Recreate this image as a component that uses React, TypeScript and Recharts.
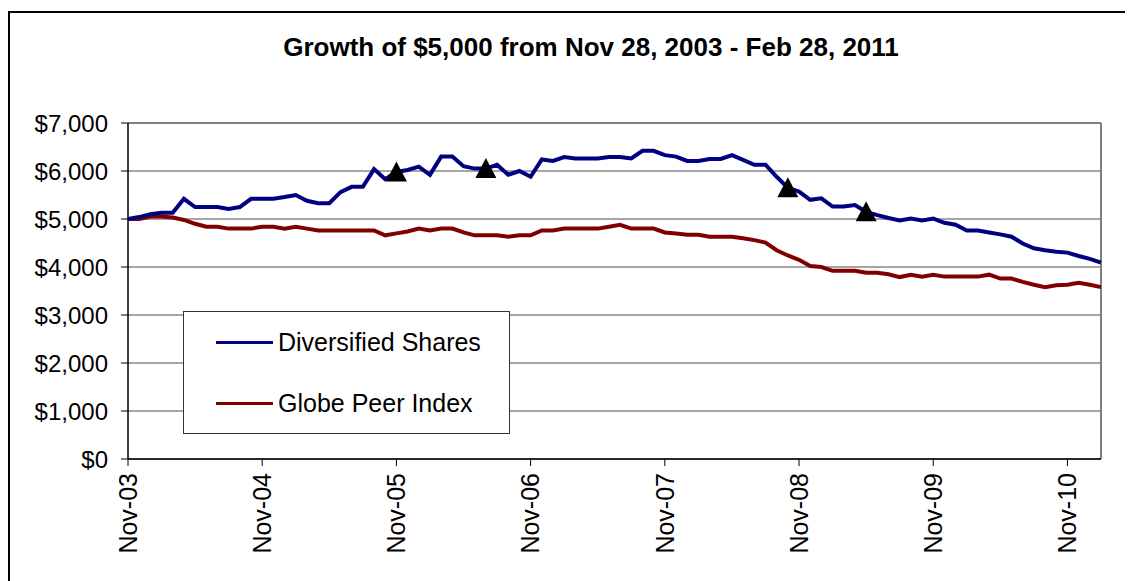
import React from "react";
import {
  LineChart,
  Line,
  XAxis,
  YAxis,
  CartesianGrid,
  ReferenceLine,
} from "recharts";

// monthly points, Nov-03 .. Feb-11
const months = [
  "Nov-03", "Dec-03", "Jan-04", "Feb-04", "Mar-04", "Apr-04", "May-04", "Jun-04", "Jul-04", "Aug-04", "Sep-04", "Oct-04",
  "Nov-04", "Dec-04", "Jan-05", "Feb-05", "Mar-05", "Apr-05", "May-05", "Jun-05", "Jul-05", "Aug-05", "Sep-05", "Oct-05",
  "Nov-05", "Dec-05", "Jan-06", "Feb-06", "Mar-06", "Apr-06", "May-06", "Jun-06", "Jul-06", "Aug-06", "Sep-06", "Oct-06",
  "Nov-06", "Dec-06", "Jan-07", "Feb-07", "Mar-07", "Apr-07", "May-07", "Jun-07", "Jul-07", "Aug-07", "Sep-07", "Oct-07",
  "Nov-07", "Dec-07", "Jan-08", "Feb-08", "Mar-08", "Apr-08", "May-08", "Jun-08", "Jul-08", "Aug-08", "Sep-08", "Oct-08",
  "Nov-08", "Dec-08", "Jan-09", "Feb-09", "Mar-09", "Apr-09", "May-09", "Jun-09", "Jul-09", "Aug-09", "Sep-09", "Oct-09",
  "Nov-09", "Dec-09", "Jan-10", "Feb-10", "Mar-10", "Apr-10", "May-10", "Jun-10", "Jul-10", "Aug-10", "Sep-10", "Oct-10",
  "Nov-10", "Dec-10", "Jan-11", "Feb-11",
];

const diversified = [
  5000, 5040, 5100, 5130, 5130, 5420, 5250, 5250, 5250, 5210, 5250, 5420,
  5420, 5420, 5460, 5500, 5380, 5330, 5330, 5560, 5670, 5670, 6040, 5830,
  5980, 6020, 6090, 5920, 6300, 6300, 6100, 6050, 6050, 6130, 5920, 6000,
  5880, 6240, 6210, 6290, 6260, 6260, 6260, 6290, 6290, 6260, 6420, 6420,
  6330, 6300, 6210, 6210, 6250, 6250, 6330, 6230, 6130, 6130, 5880, 5650,
  5570, 5400, 5430, 5260, 5260, 5290, 5150, 5080, 5020, 4970, 5010, 4970,
  5010, 4920, 4880, 4760, 4760, 4720, 4680, 4630, 4490, 4390, 4350, 4320,
  4300, 4230, 4170, 4090,
];

const globePeer = [
  5000, 5000, 5050, 5050, 5030, 4980, 4900, 4840, 4840, 4800, 4800, 4800,
  4840, 4840, 4800, 4840, 4800, 4760, 4760, 4760, 4760, 4760, 4760, 4660,
  4700, 4740, 4800, 4760, 4800, 4800, 4720, 4660, 4660, 4660, 4630, 4660,
  4660, 4760, 4760, 4800, 4800, 4800, 4800, 4840, 4880, 4800, 4800, 4800,
  4720, 4700, 4670, 4670, 4630, 4630, 4630, 4600, 4560, 4510, 4350, 4240,
  4150, 4020, 4000, 3920, 3920, 3920, 3880, 3880, 3850, 3790, 3840, 3800,
  3840, 3800, 3800, 3800, 3800, 3840, 3760, 3760, 3690, 3630, 3580, 3620,
  3630, 3670, 3630, 3580,
];

// triangle markers sit on the Diversified Shares line
const markerMonths = ["Nov-05", "Jul-06", "Oct-08", "May-09"];

const yTicks = [0, 1000, 2000, 3000, 4000, 5000, 6000, 7000];

const data = months.map((m, i) => ({
  month: m,
  diversified: diversified[i],
  globe: globePeer[i],
  marker: markerMonths.includes(m) ? diversified[i] : null,
}));

const FONT = '"Liberation Sans", Arial, sans-serif';

function fmtMoney(v: number) {
  return "$" + v.toString().replace(/\B(?=(\d{3})+(?!\d))/g, ",");
}

function XTick(props: any) {
  const { x, y, payload } = props;
  return (
    <text
      x={x}
      y={y}
      transform={`rotate(-90, ${x}, ${y})`}
      textAnchor="end"
      dy="0.35em"
      fontSize={25}
      fontFamily={FONT}
      fill="#000"
    >
      {payload.value}
    </text>
  );
}

function Triangle(props: any) {
  const { cx, cy, value } = props;
  if (value == null || cx == null || cy == null) return <g key={props.index} />;
  const w = 21;
  const h = 19;
  return (
    <polygon
      key={props.index}
      points={`${cx},${cy - h / 2 - 1} ${cx - w / 2},${cy + h / 2} ${cx + w / 2},${cy + h / 2}`}
      fill="#000"
    />
  );
}

function LegendBox() {
  const row = (color: string, label: string, top: number) => (
    <div style={{ position: "absolute", left: 0, top, display: "flex", alignItems: "center" }}>
      <div style={{ marginLeft: 32, width: 57, height: 3, background: color }} />
      <span style={{ marginLeft: 5, fontSize: 25, fontFamily: FONT, color: "#000", lineHeight: "28px" }}>
        {label}
      </span>
    </div>
  );
  return (
    <div
      style={{
        position: "absolute",
        left: 175,
        top: 303,
        width: 325,
        height: 121,
        background: "#fff",
        border: "1px solid #333",
      }}
    >
      {row("#000080", "Diversified Shares", 16)}
      {row("#800000", "Globe Peer Index", 77)}
    </div>
  );
}

export default function App() {
  return (
    <div style={{ position: "relative", width: 1125, height: 573, overflow: "hidden" }}>
      <div
        style={{
          position: "absolute",
          left: 0,
          top: 3,
          width: 1200,
          height: 700,
          borderLeft: "2px solid #000",
          borderTop: "2px solid #000",
        }}
      />
      <div
        style={{
          position: "absolute",
          left: 0,
          width: 1166,
          top: 24,
          textAlign: "center",
          fontFamily: FONT,
          fontWeight: "bold",
          fontSize: 26,
          color: "#000",
        }}
      >
        Growth of $5,000 from Nov 28, 2003 - Feb 28, 2011
      </div>
      <div style={{ position: "absolute", left: 0, top: 0 }}>
        <LineChart
          width={1125}
          height={573}
          data={data}
          margin={{ top: 115, right: 32, left: 0, bottom: 0 }}
        >
          <CartesianGrid vertical={false} stroke="#4d4d4d" strokeWidth={1} />
          <XAxis
            dataKey="month"
            interval={11}
            height={122}
            tick={<XTick />}
            tickSize={7}
            tickMargin={7}
            axisLine={{ stroke: "#000", strokeWidth: 1.5 }}
            tickLine={{ stroke: "#000" }}
          />
          <YAxis
            width={120}
            domain={[0, 7000]}
            ticks={yTicks}
            interval={0}
            tickFormatter={fmtMoney}
            tickSize={7}
            tickMargin={13}
            tick={{ fill: "#000", fontSize: 24, fontFamily: FONT }}
            axisLine={{ stroke: "#000", strokeWidth: 1.5 }}
            tickLine={{ stroke: "#000" }}
          />
          <ReferenceLine y={7000} stroke="#808080" strokeWidth={2} />
          <ReferenceLine x="Feb-11" stroke="#808080" strokeWidth={2} />
          <Line
            dataKey="globe"
            name="Globe Peer Index"
            stroke="#800000"
            strokeWidth={4}
            dot={false}
            isAnimationActive={false}
          />
          <Line
            dataKey="diversified"
            name="Diversified Shares"
            stroke="#000080"
            strokeWidth={4}
            dot={false}
            isAnimationActive={false}
          />
          <Line
            dataKey="marker"
            stroke="none"
            dot={<Triangle />}
            activeDot={false}
            legendType="none"
            isAnimationActive={false}
          />
        </LineChart>
      </div>
      <LegendBox />
    </div>
  );
}
